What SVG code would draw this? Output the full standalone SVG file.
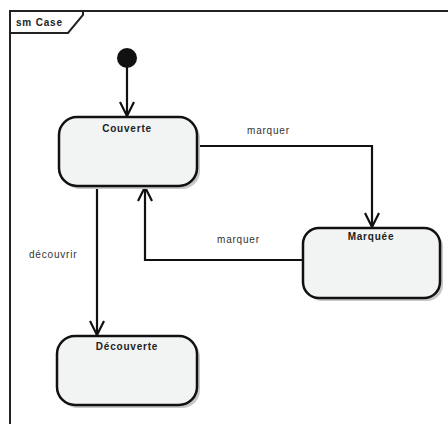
<svg xmlns="http://www.w3.org/2000/svg" width="448" height="424" viewBox="0 0 448 424">
  <style>
    .frame { fill: none; stroke: #222; stroke-width: 2; }
    .state { fill: #f2f3f3; stroke: #111; stroke-width: 2.5; }
    .shadow { fill: #c8c8c8; }
    .edge { fill: none; stroke: #111; stroke-width: 2.2; }
    .name { font-family: "Liberation Sans", Arial, sans-serif; font-size: 10px; letter-spacing: 0.8px; font-weight: bold; fill: #222; text-anchor: middle; }
    .label { font-family: "Liberation Sans", Arial, sans-serif; font-size: 10px; letter-spacing: 0.8px; fill: #333; }
    .title { font-family: "Liberation Sans", Arial, sans-serif; font-size: 10px; letter-spacing: 0.8px; font-weight: bold; fill: #222; }
  </style>
  <defs>
    <marker id="open" viewBox="0 0 16 16" refX="15" refY="8" markerWidth="16" markerHeight="16" markerUnits="userSpaceOnUse" orient="auto">
      <path d="M1,1 L15,8 L1,15" fill="none" stroke="#111" stroke-width="2.2"/>
    </marker>
  </defs>

  <rect width="448" height="424" fill="#ffffff"/>

  <!-- sm frame -->
  <g id="frame">
    <path class="frame" d="M10,424 V11 H448"/>
    <path class="frame" d="M10,33 H68 L83,15 V11"/>
    <text class="title" x="16" y="26">sm Case</text>
  </g>

  <!-- transitions -->
  <g id="connectors">
    <path class="edge" d="M127,66 V116" marker-end="url(#open)"/>
    <path class="edge" d="M197,146 H372 V227" marker-end="url(#open)"/>
    <path class="edge" d="M303,260 H145 V187" marker-end="url(#open)"/>
    <path class="edge" d="M97,186 V335" marker-end="url(#open)"/>
    <text class="label" x="247" y="134">marquer</text>
    <text class="label" x="217" y="243">marquer</text>
    <text class="label" x="29" y="258">découvrir</text>
  </g>

  <g id="initial">
    <circle cx="127" cy="58" r="10" fill="#111"/>
  </g>

  <g id="couverte">
    <rect class="shadow" x="62" y="120" width="138" height="69" rx="18"/>
    <rect class="state" x="59" y="117" width="138" height="69" rx="18"/>
    <text class="name" x="127" y="132">Couverte</text>
  </g>

  <g id="marquee">
    <rect class="shadow" x="306" y="231" width="137" height="70" rx="16"/>
    <rect class="state" x="303" y="228" width="137" height="70" rx="16"/>
    <text class="name" x="371" y="240">Marquée</text>
  </g>

  <g id="decouverte">
    <rect class="shadow" x="60" y="339" width="140" height="69" rx="18"/>
    <rect class="state" x="57" y="336" width="140" height="69" rx="18"/>
    <text class="name" x="127" y="350">Découverte</text>
  </g>
</svg>
